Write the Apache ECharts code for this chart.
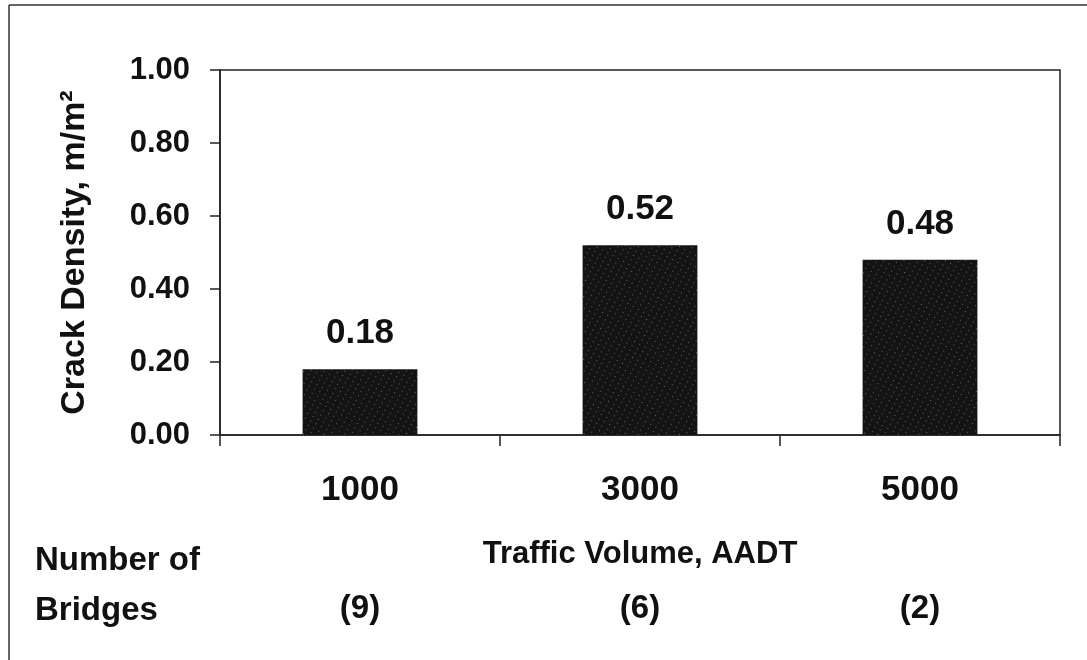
<!DOCTYPE html>
<html>
<head>
<meta charset="utf-8">
<script src="https://cdn.jsdelivr.net/npm/echarts@6/dist/echarts.min.js"></script>
<style>
	html, body { margin: 0; padding: 0; background: #fff; }
	#chart { width: 1087px; height: 660px; }
</style>
</head>
<body>
<div id="chart"></div>
<script>
// 交通量 vs 裂缝密度
var categories = ['1000', '3000', '5000'];
var crackDensity = [0.18, 0.52, 0.48];
var bridgeCounts = [9, 6, 2];
var yTicks = [0, 0.2, 0.4, 0.6, 0.8, 1.0];

var font = 'Liberation Sans, Arial, sans-serif';
var ink = '#111';

var chart = echarts.init(document.getElementById('chart'));
var option = {
	backgroundColor: '#fff',
	animation: false,
	grid: {
		left: 220,
		right: 27,
		top: 70,
		bottom: 225,
		show: true,
		borderColor: '#222',
		borderWidth: 1.5
	},
	xAxis: [
		{
			type: 'category',
			data: categories,
			name: 'Traffic Volume, AADT',
			nameLocation: 'middle',
			nameGap: 104,
			nameTextStyle: { fontFamily: font, fontWeight: 'bold', fontSize: 31, color: ink },
			axisLine: { lineStyle: { color: '#222', width: 1.5 } },
			axisTick: { show: true, length: 11, lineStyle: { color: '#222', width: 1.5 } },
			axisLabel: { margin: 38, fontFamily: font, fontWeight: 'bold', fontSize: 35, color: ink }
		},
		{
			type: 'category',
			data: bridgeCounts,
			position: 'bottom',
			axisLine: { show: false },
			axisTick: { show: false },
			axisLabel: {
				margin: 157,
				fontFamily: font, fontWeight: 'bold', fontSize: 33, color: ink,
				formatter: function (v) { return '(' + v + ')'; }
			}
		}
	],
	yAxis: {
		type: 'value',
		min: 0,
		max: 1,
		interval: 0.2,
		name: 'Crack Density, m/m²',
		nameLocation: 'middle',
		nameGap: 128,
		nameTextStyle: { fontFamily: font, fontWeight: 'bold', fontSize: 34, color: ink },
		splitLine: { show: false },
		axisLine: { show: true, lineStyle: { color: '#222', width: 1.5 } },
		axisTick: { show: true, length: 10, lineStyle: { color: '#222', width: 1.5 } },
		axisLabel: {
			margin: 30,
			fontFamily: font, fontWeight: 'bold', fontSize: 31, color: ink,
			formatter: function (v) { return v.toFixed(2); }
		}
	},
	series: [
		{
			type: 'bar',
			data: crackDensity,
			barWidth: '41%',
			itemStyle: {
				color: '#141414',
				decal: {
					symbol: 'rect',
					symbolSize: 1,
					dashArrayX: [1, 5],
					dashArrayY: [1, 4],
					rotation: 0.5,
					color: 'rgba(255,255,255,0.35)'
				}
			},
			label: {
				show: true,
				position: 'top',
				distance: 18,
				fontFamily: font, fontWeight: 'bold', fontSize: 35, color: ink,
				formatter: function (p) { return p.value.toFixed(2); }
			}
		}
	],
	graphic: [
		{ type: 'line', shape: { x1: 9, y1: 5, x2: 1087, y2: 5 }, style: { stroke: '#333', lineWidth: 1.5 } },
		{ type: 'line', shape: { x1: 9, y1: 5, x2: 9, y2: 660 }, style: { stroke: '#333', lineWidth: 1.5 } },
		{
			type: 'text', left: 35, top: 536,
			style: { text: 'Number of\nBridges', fontFamily: font, fontWeight: 'bold', fontSize: 33, lineHeight: 50, fill: ink }
		}
	]
};
chart.setOption(option);
</script>
</body>
</html>
